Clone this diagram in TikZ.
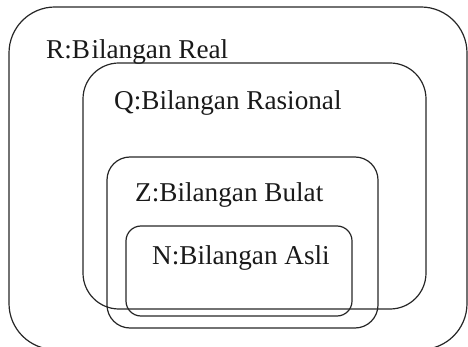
\documentclass[tikz,border=0pt]{standalone}
\usepackage{fontspec}
\setmainfont{Liberation Serif}
\begin{document}
\begin{tikzpicture}[x=1pt,y=-1pt,
  setbox/.style={draw=black!85,line width=1.2pt},
  lbl/.style={anchor=base west,inner sep=0pt,font=\fontsize{27.2}{31}\selectfont,text=black!90}]
\useasboundingbox (0,0) rectangle (468,347);
\draw[setbox,rounded corners=46pt] (9,7) rectangle (467,349.5);
\draw[setbox,rounded corners=36pt] (83,63) rectangle (426,309);
\draw[setbox,rounded corners=23pt] (107,157) rectangle (378,328);
\draw[setbox,rounded corners=15pt] (126,226) rectangle (352,316);
\node[lbl] (r) at (46,59) {R:B\kern1.5pt ilangan Real};
\node[lbl] (q) at (114,110) {Q:Bilangan Rasional};
\node[lbl] (z) at (135,202) {Z:Bilangan Bulat};
\node[lbl] (n) at (152,265) {N:Bilangan Asli};
\end{tikzpicture}
\end{document}
